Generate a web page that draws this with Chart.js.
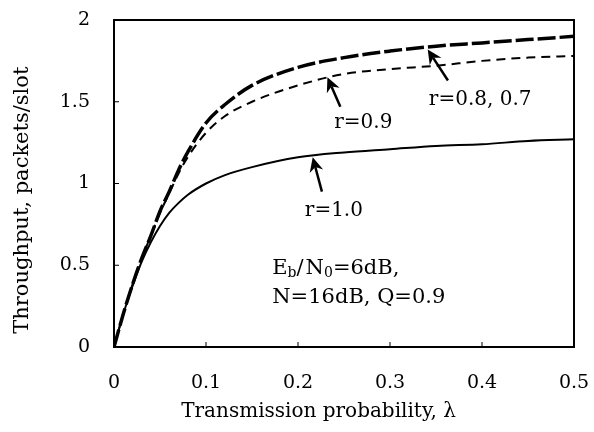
<!DOCTYPE html>
<html>
<head>
<meta charset="utf-8">
<script src="https://cdn.jsdelivr.net/npm/chart.js@4"></script>
<style>
  html, body { margin: 0; padding: 0; background: #fff; }
  #wrap { width: 594px; height: 432px; }
</style>
</head>
<body>
<div id="wrap"><canvas id="chart" width="594" height="432"></canvas></div>
<script>
// values
const lambdas = [0, 0.01, 0.02, 0.03, 0.04, 0.05, 0.06, 0.07, 0.08, 0.1, 0.12, 0.15, 0.2, 0.25, 0.3, 0.35, 0.4, 0.45, 0.5];
const r10 = [0, 0.20, 0.37, 0.52, 0.64, 0.74, 0.82, 0.88, 0.93, 1.00, 1.05, 1.10, 1.16, 1.19, 1.21, 1.23, 1.24, 1.26, 1.27];
const r09 = [0, 0.20, 0.38, 0.54, 0.68, 0.82, 0.94, 1.06, 1.16, 1.31, 1.41, 1.50, 1.60, 1.67, 1.70, 1.72, 1.75, 1.77, 1.78];
const r08 = [0, 0.20, 0.38, 0.54, 0.68, 0.83, 0.95, 1.08, 1.19, 1.37, 1.48, 1.60, 1.71, 1.77, 1.81, 1.84, 1.86, 1.88, 1.90];
const xTicks = [0, 0.1, 0.2, 0.3, 0.4, 0.5];
const xTickLabels = ['0', '0.1', '0.2', '0.3', '0.4', '0.5'];
const yTicks = [0, 0.5, 1, 1.5, 2];
const yTickLabels = ['0', '0.5', '1', '1.5', '2'];

const serif = 'DejaVu Serif';
const pts = ys => lambdas.map((x, i) => ({x: x, y: ys[i]}));
// the titles sit off-centre in the original; trailing spaces nudge them
const pad = n => '\u00a0'.repeat(n);

// arrows and labels, in data units
const notes = [
  {text: 'r=0.9', x: 0.271, y: 1.37, tail: [0.246, 1.47], head: [0.232, 1.65]},
  {text: 'r=0.8, 0.7', x: 0.398, y: 1.51, tail: [0.363, 1.63], head: [0.341, 1.82]},
  {text: 'r=1.0', x: 0.239, y: 0.83, tail: [0.226, 0.95], head: [0.216, 1.16]}
];

const frame = {
  id: 'frame',
  afterDraw(chart) {
    const {ctx, chartArea: a, scales: {x, y}} = chart;
    ctx.save();
    ctx.strokeStyle = '#000';
    ctx.lineWidth = 2;
    ctx.strokeRect(a.left, a.top, a.right - a.left, a.bottom - a.top);
    ctx.lineWidth = 1;
    ctx.beginPath();
    xTicks.forEach(v => {
      const px = x.getPixelForValue(v);
      ctx.moveTo(px, a.bottom); ctx.lineTo(px, a.bottom - 5);
    });
    yTicks.forEach(v => {
      const py = y.getPixelForValue(v);
      ctx.moveTo(a.left, py); ctx.lineTo(a.left + 5, py);
    });
    ctx.stroke();

    ctx.fillStyle = '#000';
    ctx.font = '20px "' + serif + '"';
    ctx.textAlign = 'center';
    ctx.textBaseline = 'middle';
    notes.forEach(n => {
      ctx.fillText(n.text, x.getPixelForValue(n.x), y.getPixelForValue(n.y));
      const tx = x.getPixelForValue(n.tail[0]), ty = y.getPixelForValue(n.tail[1]);
      const hx = x.getPixelForValue(n.head[0]), hy = y.getPixelForValue(n.head[1]);
      const ang = Math.atan2(hy - ty, hx - tx);
      ctx.lineWidth = 2.5;
      ctx.beginPath();
      ctx.moveTo(tx, ty);
      ctx.lineTo(hx - 10 * Math.cos(ang), hy - 10 * Math.sin(ang));
      ctx.stroke();
      ctx.beginPath();
      ctx.moveTo(hx, hy);
      ctx.lineTo(hx - 16 * Math.cos(ang - 0.45), hy - 16 * Math.sin(ang - 0.45));
      ctx.lineTo(hx - 10 * Math.cos(ang), hy - 10 * Math.sin(ang));
      ctx.lineTo(hx - 16 * Math.cos(ang + 0.45), hy - 16 * Math.sin(ang + 0.45));
      ctx.closePath();
      ctx.fill();
    });

    // parameter box
    ctx.textAlign = 'left';
    const lx = x.getPixelForValue(0.172);
    const l1 = y.getPixelForValue(0.48), l2 = y.getPixelForValue(0.30);
    let cx = lx;
    const put = (s, dy, size) => {
      ctx.font = size + 'px "' + serif + '"';
      ctx.fillText(s, cx, l1 + dy);
      cx += ctx.measureText(s).width;
    };
    put('E', 0, 21); put('b', 5, 14); put('/', 0, 21); cx += 2; put('N', 0, 21); put('0', 5, 14); put('=6dB,', 0, 21);
    ctx.font = '21px "' + serif + '"';
    ctx.fillText('N=16dB, Q=0.9', lx, l2);
    ctx.restore();
  }
};

new Chart(document.getElementById('chart'), {
  type: 'line',
  data: {
    datasets: [
      {label: 'r=1.0', data: pts(r10), borderColor: '#000', borderWidth: 2},
      {label: 'r=0.9', data: pts(r09), borderColor: '#000', borderWidth: 2, borderDash: [9, 6]},
      {label: 'r=0.8, 0.7', data: pts(r08), borderColor: '#000', borderWidth: 3.5, borderDash: [18, 4]}
    ]
  },
  options: {
    responsive: false,
    animation: false,
    layout: {padding: {top: 20, right: 20, left: 0, bottom: 0}},
    elements: {point: {radius: 0}, line: {cubicInterpolationMode: 'monotone'}},
    plugins: {legend: {display: false}, tooltip: {enabled: false}},
    scales: {
      x: {
        type: 'linear', min: 0, max: 0.5,
        afterBuildTicks: s => { s.ticks = xTicks.map(v => ({value: v})); },
        afterFit: s => { s.height = 85; },
        grid: {display: false, drawTicks: true, tickLength: 25},
        border: {display: false},
        ticks: {
          color: '#000', padding: 0, maxRotation: 0,
          font: {family: serif, size: 19},
          callback: v => xTickLabels[xTicks.indexOf(v)]
        },
        title: {display: true, text: 'Transmission probability, λ' + pad(8), color: '#000',
                font: {family: serif, size: 20}, padding: {top: 0, bottom: 8}}
      },
      y: {
        type: 'linear', min: 0, max: 2,
        afterBuildTicks: s => { s.ticks = yTicks.map(v => ({value: v})); },
        afterFit: s => { s.width = 114; },
        grid: {display: false, drawTicks: true, tickLength: 24},
        border: {display: false},
        ticks: {
          color: '#000', padding: 0,
          font: {family: serif, size: 19},
          callback: v => yTickLabels[yTicks.indexOf(v)]
        },
        title: {display: true, text: 'Throughput, packets/slot' + pad(5), color: '#000',
                font: {family: serif, size: 21}, padding: {top: 10, bottom: 0}}
      }
    }
  },
  plugins: [frame]
});
</script>
</body>
</html>
